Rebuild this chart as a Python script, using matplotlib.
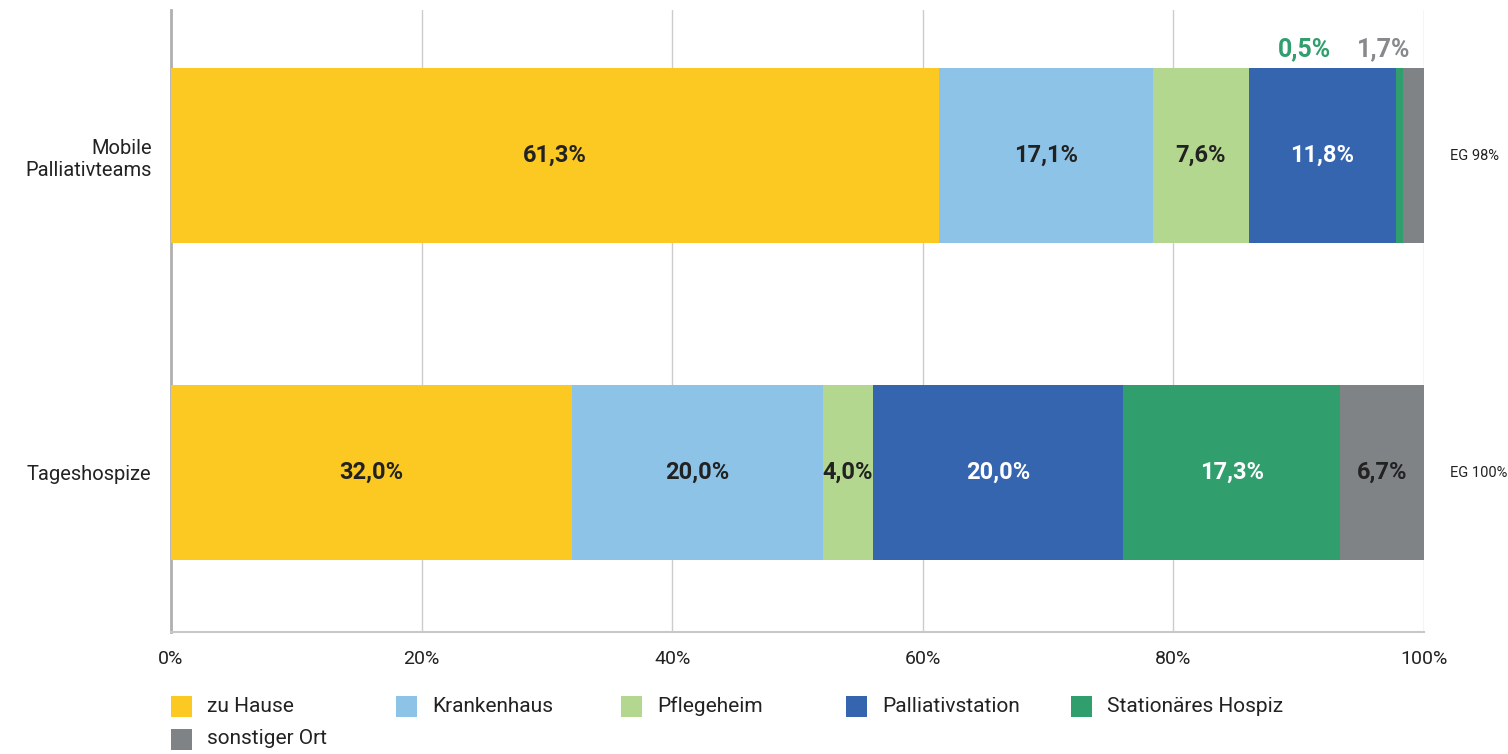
import matplotlib
matplotlib.use("Agg")
import matplotlib.pyplot as plt
from matplotlib.patches import Rectangle

plt.rcParams['font.family'] = ['Roboto', 'DejaVu Sans']

categories = ["Mobile\nPalliativteams", "Tageshospize"]
series = ["zu Hause", "Krankenhaus", "Pflegeheim", "Palliativstation", "Stationäres Hospiz", "sonstiger Ort"]
values = {
    "zu Hause": [61.3, 32.0],
    "Krankenhaus": [17.1, 20.0],
    "Pflegeheim": [7.6, 4.0],
    "Palliativstation": [11.8, 20.0],
    "Stationäres Hospiz": [0.5, 17.3],
    "sonstiger Ort": [1.7, 6.7],
}
eg_labels = ["EG 98%", "EG 100%"]
xticks = [0, 20, 40, 60, 80, 100]

colors = ["#FCC923", "#8EC3E8", "#B3D78E", "#3665B0", "#319E6E", "#808386"]
text_colors = ["#222222", "#222222", "#222222", "#FFFFFF", "#FFFFFF", "#222222"]

W, H = 1508, 754
fig = plt.figure(figsize=(W / 100, H / 100), dpi=100)
ax = fig.add_axes([171 / W, 1 - 632 / H, (1424 - 171) / W, (632 - 10) / H])

ypos = list(range(len(categories)))
left = [0.0] * len(categories)
for si, s in enumerate(series):
    vals = values[s]
    ax.barh(ypos, vals, left=left, height=0.552, color=colors[si], edgecolor="none", zorder=3)
    for i, v in enumerate(vals):
        if v >= 3:
            ax.text(left[i] + v / 2, ypos[i], f"{v:.1f}%".replace(".", ","),
                    ha="center", va="center", fontsize=17, fontweight="bold",
                    color=text_colors[si], zorder=4)
    left = [l + v for l, v in zip(left, vals)]

# small-segment labels above the first bar
ax.text(90.5, -0.335, f"{values['Stationäres Hospiz'][0]:.1f}%".replace(".", ","),
        ha="center", va="center", fontsize=18, fontweight="bold", color="#319E6E")
ax.text(96.8, -0.335, f"{values['sonstiger Ort'][0]:.1f}%".replace(".", ","),
        ha="center", va="center", fontsize=18, fontweight="bold", color="#87898c")

for i, t in enumerate(eg_labels):
    ax.text(102.1, ypos[i], t, ha="left", va="center", fontsize=10.5, color="#222222", clip_on=False)

ax.set_xlim(0, 100)
ax.set_ylim(1.503, -0.459)
ax.set_xticks(xticks)
ax.set_xticklabels([f"{x}%" for x in xticks], fontsize=14, color="#222222")
ax.set_yticks(ypos)
ax.set_yticklabels(categories, fontsize=14.5, color="#222222", ha="right")
ax.tick_params(axis="both", length=0)
ax.tick_params(axis="x", pad=13)
ax.tick_params(axis="y", pad=14)
ax.grid(axis="x", color="#cccccc", linewidth=1, zorder=0)
for sp in ["top", "right"]:
    ax.spines[sp].set_visible(False)
ax.spines["left"].set_color("#b0b0b0")
ax.spines["left"].set_linewidth(2)
ax.spines["bottom"].set_color("#c8c8c8")
ax.spines["bottom"].set_linewidth(1.5)

# legend laid out in rows of five, fixed column width
col_w = 225
x0, y0, row_h = 171, 706, 33
for k, (c, s) in enumerate(zip(colors, series)):
    r, col = divmod(k, 5)
    xs = x0 + col * col_w
    yc = y0 + r * row_h
    fig.patches.append(Rectangle((xs / W, 1 - (yc + 10.5) / H), 21 / W, 21 / H,
                                 transform=fig.transFigure, facecolor=c, edgecolor="none"))
    fig.text((xs + 36) / W, 1 - yc / H, s, ha="left", va="center", fontsize=15, color="#222222")

fig.savefig("out.png", dpi=100)
